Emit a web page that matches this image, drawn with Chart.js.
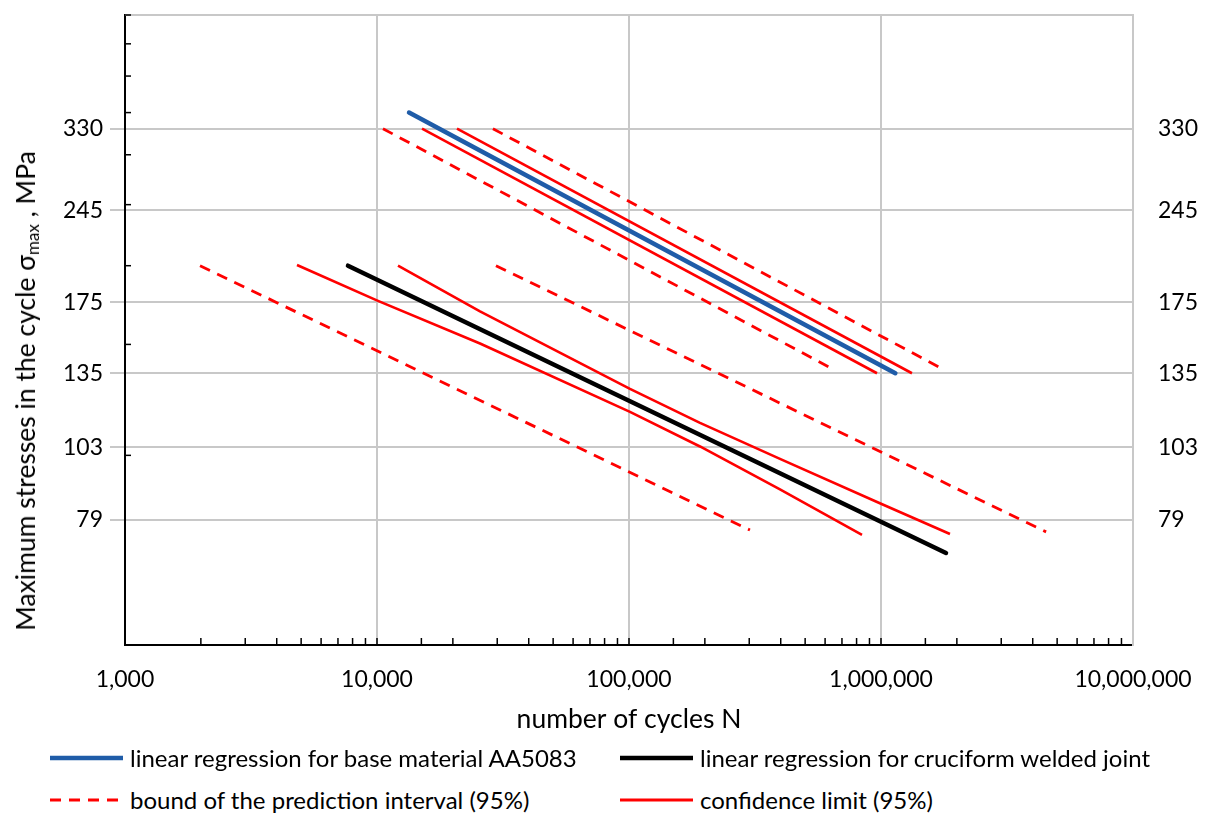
<!DOCTYPE html>
<html>
<head>
<meta charset="utf-8">
<script src="https://cdn.jsdelivr.net/npm/chart.js@4.4.1/dist/chart.umd.min.js"></script>
<style>
  html, body { margin: 0; padding: 0; background: #fff; }
  #wrap { position: relative; width: 1205px; height: 814px; overflow: hidden; font-family: Lato, "Open Sans", sans-serif; color: #000; }
  #c { position: absolute; left: 0; top: 0; }
  #ytitle { position: absolute; left: 26px; top: 391px; transform: translate(-50%, -50%) rotate(-90deg); white-space: nowrap; font-size: 26.5px; }
  #ytitle sub { font-size: 17px; vertical-align: -4px; }
  .lg { position: absolute; font-size: 24px; white-space: nowrap; line-height: 28px; }
  .lg svg { position: absolute; left: 0; top: 10px; }
  .lg span { position: absolute; white-space: nowrap; }
</style>
</head>
<body>
<div id="wrap">
  <canvas id="c" width="1205" height="745"></canvas>
  <div id="ytitle">Maximum stresses in the cycle σ<sub>max</sub> , MPa</div>
  <div id="legend"></div>
</div>
<script>
// ---- Data ----
// x: number of cycles N, y: maximum stress in MPa
const yTickValues = [79, 103, 135, 175, 245, 330];
const yMinorTickValues = [100, 150, 200, 250, 300, 350, 400, 450, 500];

// base material AA5083
const baseRegN = [13400, 1140000];
const baseRegS = [350, 135];
const basePredLowN = [10560, 645000];
const basePredLowS = [330, 137];
const baseConfLowN = [15090, 964000];
const baseConfLowS = [330, 135];
const baseConfHighN = [20770, 1327000];
const baseConfHighS = [330, 135];
const basePredHighN = [28840, 1762000];
const basePredHighS = [330, 137];

// cruciform welded joint
const weldRegN = [7670, 1811000];
const weldRegS = [200, 70.0];
const weldPredLowN = [1985, 302000];
const weldPredLowS = [200, 76.1];
const weldPredHighN = [29650, 4520000];
const weldPredHighS = [200, 75.6];
const weldConfLowN = [4814, 10090, 25630, 100900, 191300, 397300, 840700];
const weldConfLowS = [200.5, 175.9, 150.5, 117.2, 103.3, 88.3, 74.8];
const weldConfHighN = [12115, 25630, 100900, 191300, 397300, 1000000, 1878000];
const weldConfHighS = [200, 169.3, 127.5, 112.6, 98.7, 83.8, 75.0];

const legendLabels = [
  'linear regression for base material AA5083',
  'linear regression for cruciform welded joint',
  'bound of the prediction interval (95%)',
  'confidence limit (95%)'
];

// ---- helpers ----
const BLUE = '#1f5ca8';
const RED = '#ff0000';
const GRID = '#c8c8c8';
function pts(xs, ys) { return xs.map((x, i) => ({ x: x, y: ys[i] })); }
function isDecade(v) { const l = Math.log10(v); return Math.abs(l - Math.round(l)) < 1e-9; }

function ds(label, xs, ys, color, width, dash) {
  return {
    label: label,
    data: pts(xs, ys),
    showLine: true,
    borderColor: color,
    backgroundColor: color,
    borderWidth: width,
    borderDash: dash || [],
    borderCapStyle: dash ? 'butt' : (width > 3 ? 'round' : 'butt'),
    borderJoinStyle: 'round',
    pointRadius: 0,
    pointHoverRadius: 0,
    tension: 0,
    fill: false
  };
}

const DASH = [11, 8];
const datasets = [
  ds(legendLabels[2], basePredLowN, basePredLowS, RED, 2.8, DASH),
  ds(legendLabels[2], basePredHighN, basePredHighS, RED, 2.8, DASH),
  ds(legendLabels[3], baseConfLowN, baseConfLowS, RED, 2.6),
  ds(legendLabels[3], baseConfHighN, baseConfHighS, RED, 2.6),
  ds(legendLabels[0], baseRegN, baseRegS, BLUE, 4.5),
  ds(legendLabels[2], weldPredLowN, weldPredLowS, RED, 2.8, DASH),
  ds(legendLabels[2], weldPredHighN, weldPredHighS, RED, 2.8, DASH),
  ds(legendLabels[3], weldConfLowN, weldConfLowS, RED, 2.6),
  ds(legendLabels[3], weldConfHighN, weldConfHighS, RED, 2.6),
  ds(legendLabels[1], weldRegN, weldRegS, '#000000', 4.5)
];

const marksPlugin = {
  id: 'marks',
  afterDraw(chart) {
    const ctx = chart.ctx;
    const a = chart.chartArea;
    const xs = chart.scales.x, ys = chart.scales.y;
    ctx.save();
    // top frame
    ctx.strokeStyle = GRID; ctx.lineWidth = 2;
    ctx.beginPath(); ctx.moveTo(a.left, a.top); ctx.lineTo(a.right, a.top); ctx.stroke();
    // x minor ticks pointing up
    ctx.strokeStyle = '#000'; ctx.lineWidth = 1.5;
    xs.ticks.forEach(t => {
      const px = xs.getPixelForValue(t.value);
      if (px <= a.left + 1 || px >= a.right - 1) return;
      ctx.beginPath(); ctx.moveTo(px, a.bottom); ctx.lineTo(px, a.bottom - 7); ctx.stroke();
    });
    // y minor ticks pointing right
    yMinorTickValues.forEach(v => {
      const py = ys.getPixelForValue(v);
      ctx.beginPath(); ctx.moveTo(a.left, py); ctx.lineTo(a.left + 6, py); ctx.stroke();
    });
    ctx.restore();
  }
};

function noPad(s) { s.paddingTop = 0; s.paddingBottom = 0; s.paddingLeft = 0; s.paddingRight = 0; }
const tickFont = { family: 'Lato', size: 23 };

new Chart(document.getElementById('c'), {
  type: 'scatter',
  data: { datasets: datasets },
  options: {
    responsive: false,
    animation: false,
    layout: { padding: { left: 0, right: 0, top: 15, bottom: 0 } },
    plugins: { legend: { display: false }, tooltip: { enabled: false } },
    scales: {
      x: {
        type: 'logarithmic',
        position: 'bottom',
        min: 1000, max: 10000000,
        afterFit: s => { s.height = 100; noPad(s); },
        border: { color: '#000', width: 2 },
        grid: {
          drawTicks: false,
          lineWidth: 2,
          color: c => (c.tick && isDecade(c.tick.value) && c.tick.value > 1000) ? GRID : 'rgba(0,0,0,0)'
        },
        ticks: {
          autoSkip: false, maxRotation: 0, padding: 21, color: '#000', font: tickFont,
          callback: v => isDecade(v) ? Number(v).toLocaleString('en-US') : ''
        },
        title: { display: true, text: 'number of cycles N', color: '#000', font: { family: 'Lato', size: 26.5 }, padding: { top: 0, bottom: 10 } }
      },
      y: {
        type: 'logarithmic',
        position: 'left',
        min: 50, max: 500,
        afterFit: s => { s.width = 125; noPad(s); },
        afterBuildTicks: s => { s.ticks = yTickValues.map(v => ({ value: v })); },
        border: { color: '#000', width: 2 },
        grid: { color: GRID, lineWidth: 2, drawTicks: true, tickLength: 15, tickColor: GRID },
        ticks: { autoSkip: false, padding: 7, color: '#000', font: tickFont, callback: v => String(v) }
      },
      y2: {
        type: 'logarithmic',
        position: 'right',
        min: 50, max: 500,
        afterFit: s => { s.width = 72; noPad(s); },
        afterBuildTicks: s => { s.ticks = yTickValues.map(v => ({ value: v })); },
        border: { color: GRID, width: 2 },
        grid: { drawOnChartArea: false, drawTicks: false },
        ticks: { autoSkip: false, padding: 25, color: '#000', font: tickFont, callback: v => String(v) }
      }
    }
  },
  plugins: [marksPlugin]
});

// ---- HTML legend ----
const legendItems = [
  { text: legendLabels[0], color: BLUE, w: 4.5, dash: null, x: 50, y: 758 },
  { text: legendLabels[1], color: '#000', w: 4.5, dash: null, x: 620, y: 758 },
  { text: legendLabels[2], color: RED, w: 2.8, dash: '11,8', x: 50, y: 800 },
  { text: legendLabels[3], color: RED, w: 2.8, dash: null, x: 620, y: 800 }
];
const lg = document.getElementById('legend');
legendItems.forEach(it => {
  const d = document.createElement('div');
  d.className = 'lg';
  d.style.left = it.x + 'px';
  d.style.top = (it.y - 14) + 'px';
  d.innerHTML = '<svg width="74" height="8"><line x1="0" y1="4" x2="73" y2="4" stroke="' + it.color +
    '" stroke-width="' + it.w + '"' + (it.dash ? ' stroke-dasharray="' + it.dash + '"' : '') + '/></svg>' +
    '<span style="left:80px;top:0">' + it.text + '</span>';
  lg.appendChild(d);
});
</script>
</body>
</html>
